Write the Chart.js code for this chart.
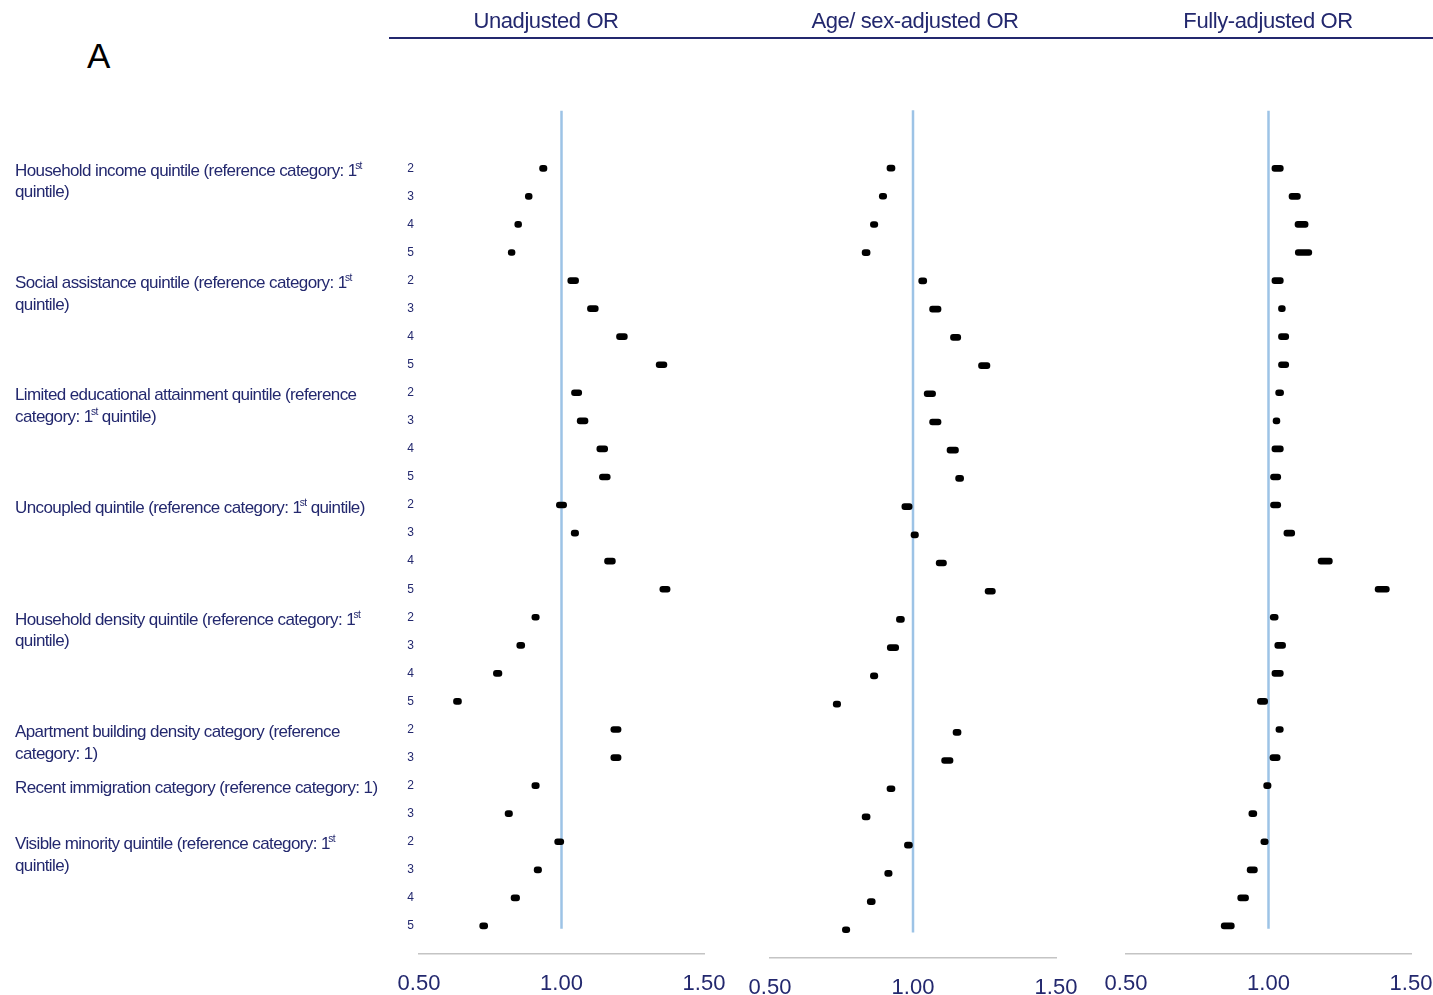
<!DOCTYPE html>
<html>
<head>
<meta charset="utf-8">
<script src="https://cdn.jsdelivr.net/npm/chart.js@4.4.1/dist/chart.umd.min.js"></script>
<style>
  html, body { margin: 0; padding: 0; background: #ffffff; }
  body { width: 1433px; height: 995px; position: relative; overflow: hidden; font-family: "Liberation Sans", Arial, sans-serif; }
  .cv { position: absolute; top: 0; height: 995px; }
  #c1 { left: 0; width: 735px; }
  #c2 { left: 735px; width: 355px; }
  #c3 { left: 1090px; width: 343px; }
  .title { position: absolute; top: 8px; font-size: 22px; color: #23286e; letter-spacing: -0.4px; white-space: nowrap; transform: translateX(-50%); }
  #rule { position: absolute; left: 389px; top: 37px; width: 1044px; height: 2px; background: #23286e; }
  #panelA { position: absolute; left: 87px; top: 36px; font-size: 35px; color: #000; }
</style>
</head>
<body>
<div id="rule"></div>
<div id="panelA">A</div>
<canvas id="c1" class="cv" width="735" height="995"></canvas>
<canvas id="c2" class="cv" width="355" height="995"></canvas>
<canvas id="c3" class="cv" width="343" height="995"></canvas>
<script>
// ---------------- DATA ----------------
const panelTitles = ['Unadjusted OR', 'Age/ sex-adjusted OR', 'Fully-adjusted OR'];
const titleCenters = [546, 915, 1268];

const rowLabels = ['2','3','4','5', '2','3','4','5', '2','3','4','5', '2','3','4','5',
                   '2','3','4','5', '2','3', '2','3', '2','3','4','5'];

const groupLabels = [
  ['Household income quintile (reference category: 1^st', 'quintile)'],
  ['Social assistance quintile (reference category: 1^st', 'quintile)'],
  ['Limited educational attainment quintile (reference', 'category: 1^st quintile)'],
  ['Uncoupled quintile (reference category: 1^st quintile)'],
  ['Household density quintile (reference category: 1^st', 'quintile)'],
  ['Apartment building density category (reference', 'category: 1)'],
  ['Recent immigration category (reference category: 1)'],
  ['Visible minority quintile (reference category: 1^st', 'quintile)']
];
const groupStartRow = [0, 4, 8, 12, 16, 20, 22, 24];

const xTickValues = [0.5, 1.0, 1.5];
const referenceOR = 1.0;

// Unadjusted OR (95% CI lower / upper)
const unadjLower = [0.923,0.873,0.836,0.813, 1.022,1.091,1.193,1.332, 1.035,1.055,1.124,1.133,
                    0.982,1.034,1.151,1.345, 0.896,0.843,0.761,0.621, 1.173,1.173, 0.896,0.802,
                    0.976,0.904,0.823,0.713];
const unadjUpper = [0.949,0.897,0.860,0.837, 1.060,1.129,1.231,1.370, 1.071,1.093,1.162,1.171,
                    1.018,1.060,1.189,1.381, 0.922,0.871,0.791,0.649, 1.209,1.209, 0.922,0.828,
                    1.008,0.930,0.853,0.741];

// Age/sex-adjusted OR
const ageSexLower = [0.909,0.882,0.851,0.822, 1.020,1.058,1.131,1.229, 1.039,1.058,1.119,1.149,
                     0.961,0.993,1.081,1.252, 0.942,0.910,0.851,0.721, 1.140,1.100, 0.909,0.822,
                     0.970,0.901,0.840,0.753];
const ageSexUpper = [0.937,0.908,0.877,0.850, 1.048,1.098,1.167,1.269, 1.079,1.098,1.159,1.177,
                     0.997,1.019,1.117,1.288, 0.970,0.950,0.877,0.747, 1.168,1.140, 0.937,0.850,
                     0.998,0.927,0.868,0.779];

// Fully-adjusted OR
const fullLower = [1.012,1.072,1.093,1.094, 1.012,1.035,1.035,1.035, 1.025,1.016,1.012,1.007,
                   1.007,1.054,1.174,1.374, 1.006,1.022,1.012,0.961, 1.026,1.005, 0.983,0.931,
                   0.973,0.925,0.892,0.834];
const fullUpper = [1.052,1.112,1.139,1.152, 1.052,1.059,1.071,1.071, 1.053,1.040,1.052,1.043,
                   1.043,1.092,1.224,1.424, 1.034,1.060,1.052,0.997, 1.052,1.041, 1.009,0.959,
                   0.999,0.961,0.930,0.880];

// ---------------- STYLE / LAYOUT ----------------
const NAVY = '#23286e';
const panels = [
  { id: 'c1', lower: unadjLower, upper: unadjUpper, padL: 0,  padR: 31, top: 28, axisH: 41, yAxisWidth: 419, showY: true },
  { id: 'c2', lower: ageSexLower, upper: ageSexUpper, padL: 35, padR: 34, top: 27, axisH: 37, showY: false },
  { id: 'c3', lower: fullLower,  upper: fullUpper,  padL: 36, padR: 22, top: 28, axisH: 41, showY: false }
];

// titles (HTML text)
panelTitles.forEach((t, i) => {
  const d = document.createElement('div');
  d.className = 'title';
  d.textContent = t;
  d.style.left = titleCenters[i] + 'px';
  document.body.appendChild(d);
});

function drawRich(ctx, text, x, y, size) {
  // supports "1^st" superscript
  const parts = text.split(/\^(\w+)/);
  let cx = x;
  parts.forEach((p, k) => {
    if (!p) return;
    if (k % 2 === 1) {
      ctx.font = (size * 0.6) + 'px "Liberation Sans", Arial, sans-serif';
      ctx.fillText(p, cx - 1.5, y - size * 0.3);
      cx += ctx.measureText(p).width - 1.5;
    } else {
      ctx.font = size + 'px "Liberation Sans", Arial, sans-serif';
      ctx.fillText(p, cx, y);
      cx += ctx.measureText(p).width;
    }
  });
}

const groupLabelPlugin = {
  id: 'groupLabels',
  afterDraw(chart) {
    if (chart.canvas.id !== 'c1') return;
    const ctx = chart.ctx;
    const ys = chart.scales.y;
    ctx.save();
    ctx.fillStyle = NAVY;
    ctx.textBaseline = 'middle';
    ctx.textAlign = 'left';
    try { ctx.letterSpacing = '-0.6px'; } catch (e) {}
    groupLabels.forEach((lines, g) => {
      const y0 = ys.getPixelForValue(groupStartRow[g]) + 3;
      lines.forEach((ln, j) => drawRich(ctx, ln, 15, y0 + j * 21.5, 17));
    });
    ctx.restore();
  }
};

panels.forEach(p => {
  const bars = rowLabels.map((_, i) => ({ y: i, x: [p.lower[i], p.upper[i]] }));
  new Chart(document.getElementById(p.id), {
    data: {
      datasets: [
        {
          type: 'line',
          data: [{ x: referenceOR, y: -2.05 }, { x: referenceOR, y: 27.1 }],
          borderColor: '#9dc3e6',
          borderWidth: 2.5,
          pointRadius: 0,
          order: 2,
          indexAxis: 'y'
        },
        {
          type: 'bar',
          data: bars,
          backgroundColor: '#000000',
          borderWidth: 0,
          barThickness: 6,
          borderRadius: 3,
          borderSkipped: false,
          order: 1,
          indexAxis: 'y'
        }
      ]
    },
    options: {
      indexAxis: 'y',
      responsive: false,
      animation: false,
      devicePixelRatio: 1,
      layout: { padding: { left: p.padL, right: p.padR, top: p.top, bottom: 0 } },
      plugins: { legend: { display: false }, tooltip: { enabled: false } },
      scales: {
        x: {
          type: 'linear',
          position: 'bottom',
          offset: false,
          min: 0.5, max: 1.5,
          afterBuildTicks: (s) => { s.ticks = xTickValues.map(v => ({ value: v })); },
          afterFit: (s) => { s.height = p.axisH; s.paddingLeft = 0; s.paddingRight = 0; },
          grid: { display: false, drawTicks: false, offset: false },
          border: { display: true, color: '#c4c4c4', width: 1.5 },
          ticks: {
            padding: 17,
            color: NAVY,
            font: { family: '"Liberation Sans", Arial, sans-serif', size: 22 },
            callback: (v) => Number(v).toFixed(2),
            maxRotation: 0
          }
        },
        y: {
          type: 'linear',
          reverse: true,
          offset: false,
          min: -5, max: 28,
          display: p.showY,
          afterBuildTicks: (s) => { s.ticks = rowLabels.map((_, i) => ({ value: i })); },
          afterFit: (s) => { if (p.showY) s.width = p.yAxisWidth; s.paddingTop = 0; s.paddingBottom = 0; },
          grid: { display: false, drawTicks: false, offset: false },
          border: { display: false },
          ticks: {
            autoSkip: false,
            padding: 5,
            color: NAVY,
            font: { family: '"Liberation Sans", Arial, sans-serif', size: 12 },
            callback: (v) => rowLabels[v] ?? ''
          }
        }
      }
    },
    plugins: [groupLabelPlugin]
  });
});
</script>
</body>
</html>
